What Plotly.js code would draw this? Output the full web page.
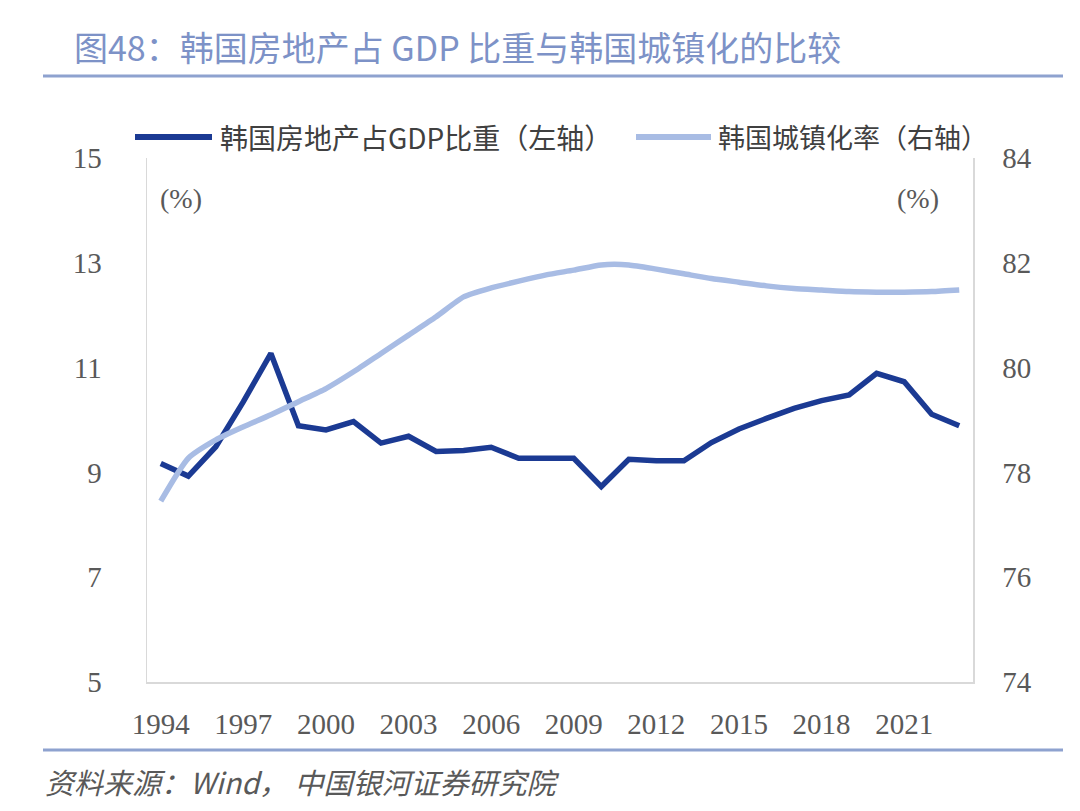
<!DOCTYPE html>
<html>
<head>
<meta charset="utf-8">
<script src="https://cdn.plot.ly/plotly-3.0.1.min.js"></script>
<style>
  html, body { margin: 0; padding: 0; background: #fff; }
  #chart { width: 1080px; height: 811px; }
</style>
</head>
<body>
<div id="chart"></div>
<script>
// data
var years = [1994, 1995, 1996, 1997, 1998, 1999, 2000, 2001, 2002, 2003,
             2004, 2005, 2006, 2007, 2008, 2009, 2010, 2011, 2012, 2013,
             2014, 2015, 2016, 2017, 2018, 2019, 2020, 2021, 2022, 2023]

// 韩国房地产占GDP比重 (%), left axis
var realEstateShare = [9.17, 8.93, 9.49, 10.35, 11.27, 9.89, 9.81, 9.97, 9.56, 9.69,
                       9.40, 9.42, 9.48, 9.27, 9.27, 9.27, 8.73, 9.25, 9.22, 9.22,
                       9.57, 9.83, 10.03, 10.22, 10.37, 10.48, 10.89, 10.73, 10.11, 9.89]

// 韩国城镇化率 (%), right axis
var urbanRate = [77.45, 78.27, 78.62, 78.87, 79.10, 79.35, 79.60, 79.92, 80.27, 80.62,
                 80.97, 81.35, 81.52, 81.65, 81.77, 81.86, 81.96, 81.96, 81.88, 81.79,
                 81.70, 81.63, 81.56, 81.51, 81.48, 81.45, 81.44, 81.44, 81.45, 81.48]

var xTicks = [1994, 1997, 2000, 2003, 2006, 2009, 2012, 2015, 2018, 2021]
var leftTicks = [5, 7, 9, 11, 13, 15]
var rightTicks = [74, 76, 78, 80, 82, 84]

var darkBlue = '#1b3a93'
var lightBlue = '#a8bce4'
var numFont = 'Liberation Serif, DejaVu Serif, serif'
var cjkFont = 'Noto Sans CJK SC, sans-serif'

// plot box in pixels: 147..973 horizontally, 158..682 vertically
var L = 147, R = 973, T = 158, B = 682
var px = function (x) { return (x - L) / (R - L) }
var py = function (y) { return (B - y) / (B - T) }

var traces = [
  {
    x: years,
    y: urbanRate,
    yaxis: 'y2',
    mode: 'lines',
    name: '韩国城镇化率（右轴）',
    line: { color: lightBlue, width: 5.5, shape: 'spline', smoothing: 0.6 },
    hoverinfo: 'x+y'
  },
  {
    x: years,
    y: realEstateShare,
    mode: 'lines',
    name: '韩国房地产占GDP比重（左轴）',
    line: { color: darkBlue, width: 5.5 },
    hoverinfo: 'x+y'
  }
]

var layout = {
  width: 1080,
  height: 811,
  margin: { l: L, r: 1080 - R, t: T, b: 811 - B, pad: 0 },
  paper_bgcolor: '#ffffff',
  plot_bgcolor: '#ffffff',
  showlegend: false,
  xaxis: {
    range: [1993.5, 2023.5],
    tickvals: xTicks,
    ticktext: xTicks.map(String),
    ticks: '',
    showgrid: false,
    zeroline: false,
    showline: true,
    linecolor: '#d9d9d9',
    linewidth: 1.5,
    tickfont: { family: numFont, size: 29, color: '#595959' },
    ticklabelstandoff: 16
  },
  yaxis: {
    range: [5, 15],
    tickvals: leftTicks,
    ticks: '',
    showgrid: false,
    zeroline: false,
    showline: true,
    linecolor: '#d9d9d9',
    linewidth: 1.5,
    tickfont: { family: numFont, size: 29, color: '#595959' },
    ticklabelstandoff: 38
  },
  yaxis2: {
    range: [74, 84],
    tickvals: rightTicks,
    overlaying: 'y',
    side: 'right',
    ticks: '',
    showgrid: false,
    zeroline: false,
    showline: true,
    linecolor: '#d9d9d9',
    linewidth: 1.5,
    tickfont: { family: numFont, size: 29, color: '#595959' },
    ticklabelstandoff: 22
  },
  shapes: [
    // rule under title
    { type: 'line', xref: 'paper', yref: 'paper', x0: px(43), x1: px(1063), y0: py(76), y1: py(76),
      line: { color: '#8ea2cf', width: 3 } },
    // rule above source
    { type: 'line', xref: 'paper', yref: 'paper', x0: px(43), x1: px(1063), y0: py(750), y1: py(750),
      line: { color: '#8ea2cf', width: 3 } },
    // legend samples
    { type: 'line', xref: 'paper', yref: 'paper', x0: px(135), x1: px(212), y0: py(137), y1: py(137),
      line: { color: darkBlue, width: 6 } },
    { type: 'line', xref: 'paper', yref: 'paper', x0: px(636), x1: px(711), y0: py(137), y1: py(137),
      line: { color: lightBlue, width: 6 } }
  ],
  annotations: [
    { xref: 'paper', yref: 'paper', x: px(72), y: py(47), xanchor: 'left', yanchor: 'middle',
      text: '图48：韩国房地产占 GDP 比重与韩国城镇化的比较', showarrow: false,
      font: { family: cjkFont, size: 34, color: '#7d92c7' } },
    { xref: 'paper', yref: 'paper', x: px(218), y: py(137), xanchor: 'left', yanchor: 'middle',
      text: '韩国房地产占GDP比重（左轴）', showarrow: false,
      font: { family: cjkFont, size: 28, color: '#404040' } },
    { xref: 'paper', yref: 'paper', x: px(716), y: py(137), xanchor: 'left', yanchor: 'middle',
      text: '韩国城镇化率（右轴）', showarrow: false,
      font: { family: cjkFont, size: 27, color: '#404040' } },
    { xref: 'paper', yref: 'paper', x: px(181), y: py(198), xanchor: 'center', yanchor: 'middle',
      text: '(%)', showarrow: false,
      font: { family: numFont, size: 28, color: '#595959' } },
    { xref: 'paper', yref: 'paper', x: px(918), y: py(198), xanchor: 'center', yanchor: 'middle',
      text: '(%)', showarrow: false,
      font: { family: numFont, size: 28, color: '#595959' } },
    { xref: 'paper', yref: 'paper', x: px(43), y: py(781), xanchor: 'left', yanchor: 'middle',
      text: '<i>资料来源：Wind， 中国银河证券研究院</i>', showarrow: false,
      font: { family: cjkFont, size: 29, color: '#595959' } }
  ]
}

Plotly.newPlot('chart', traces, layout, { displayModeBar: false, staticPlot: true })
</script>
</body>
</html>
